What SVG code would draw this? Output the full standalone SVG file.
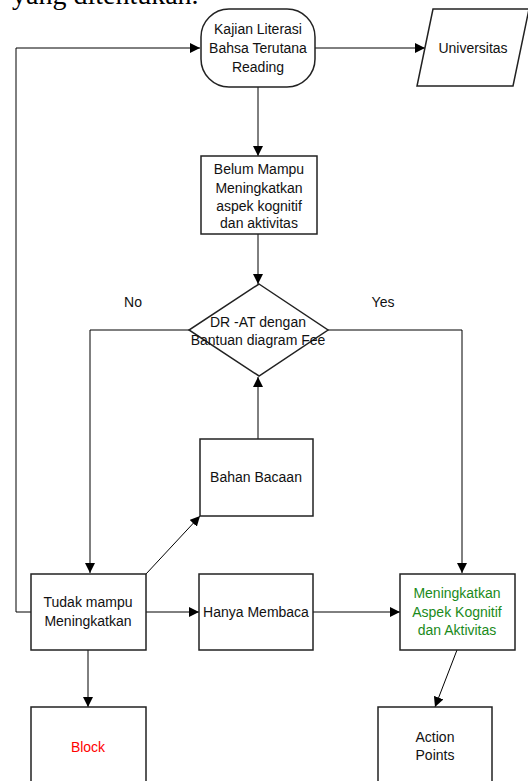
<svg xmlns="http://www.w3.org/2000/svg" width="528" height="781" viewBox="0 0 528 781">
<style>
.box{fill:#fff;stroke:#222;stroke-width:1.5}
.ln{fill:none;stroke:#000;stroke-width:1}
text{font-family:"Liberation Sans",Arial,sans-serif;font-size:14px;fill:#111;text-anchor:middle;dominant-baseline:central}
.hd{font-family:"Liberation Serif","Times New Roman",serif;font-size:28px;text-anchor:start;dominant-baseline:alphabetic;fill:#000}
</style>
<defs>
<marker id="ah" viewBox="0 0 10 10" refX="10" refY="5" markerWidth="10" markerHeight="10" markerUnits="userSpaceOnUse" orient="auto">
<path d="M0,0 L10,5 L0,10 Z" fill="#000"/>
</marker>
</defs>
<rect width="528" height="781" fill="#fff"/>
<text class="hd" x="12" y="4">yang ditentukan.</text>
<g id="connectors">
<path class="ln" d="M31,612 H16 V48 H200" marker-end="url(#ah)"/>
<path class="ln" d="M315,48 H425" marker-end="url(#ah)"/>
<path class="ln" d="M258,87 V156" marker-end="url(#ah)"/>
<path class="ln" d="M258,234 V284" marker-end="url(#ah)"/>
<path class="ln" d="M189,330 H90 V573" marker-end="url(#ah)"/>
<path class="ln" d="M328,330 H462 V573" marker-end="url(#ah)"/>
<path class="ln" d="M258,439 V377" marker-end="url(#ah)"/>
<path class="ln" d="M146,574 L200,516" marker-end="url(#ah)"/>
<path class="ln" d="M146,612 H199" marker-end="url(#ah)"/>
<path class="ln" d="M313,612 H400" marker-end="url(#ah)"/>
<path class="ln" d="M88,650 V707" marker-end="url(#ah)"/>
<path class="ln" d="M457,650 L435,707" marker-end="url(#ah)"/>
<text x="133" y="302">No</text>
<text x="383" y="302">Yes</text>
</g>
<g id="start">
<rect class="box" x="201" y="9" width="114" height="78" rx="28" ry="28"/>
<text x="258" y="29">Kajian Literasi</text>
<text x="258" y="48">Bahsa Terutana</text>
<text x="258" y="67">Reading</text>
</g>
<g id="universitas">
<polygon class="box" points="433,9 529,9 513,86 417,86"/>
<text x="473" y="48">Universitas</text>
</g>
<g id="belum">
<rect class="box" x="201" y="156" width="116" height="78"/>
<text x="259" y="169">Belum Mampu</text>
<text x="259" y="188">Meningkatkan</text>
<text x="259" y="206">aspek kognitif</text>
<text x="259" y="223">dan aktivitas</text>
</g>
<g id="decision">
<polygon class="box" points="259,284 328,330 259,376 189,330"/>
<text x="258" y="322">DR -AT dengan</text>
<text x="258" y="340">Bantuan diagram Fee</text>
</g>
<g id="bahan">
<rect class="box" x="200" y="439" width="113" height="77"/>
<text x="256" y="477">Bahan Bacaan</text>
</g>
<g id="tudak">
<rect class="box" x="31" y="574" width="115" height="76"/>
<text x="88" y="602">Tudak mampu</text>
<text x="88" y="621">Meningkatkan</text>
</g>
<g id="hanya">
<rect class="box" x="199" y="574" width="114" height="76"/>
<text x="256" y="612">Hanya Membaca</text>
</g>
<g id="meningkatkan">
<rect class="box" x="400" y="574" width="115" height="76"/>
<text x="457" y="593" style="fill:#1a8a1a">Meningkatkan</text>
<text x="457" y="612" style="fill:#1a8a1a">Aspek Kognitif</text>
<text x="457" y="630" style="fill:#1a8a1a">dan Aktivitas</text>
</g>
<g id="block">
<rect class="box" x="31" y="707" width="115" height="80"/>
<text x="88" y="747" style="fill:#f00">Block</text>
</g>
<g id="action">
<rect class="box" x="378" y="707" width="114" height="80"/>
<text x="435" y="737">Action</text>
<text x="435" y="755">Points</text>
</g>
</svg>
